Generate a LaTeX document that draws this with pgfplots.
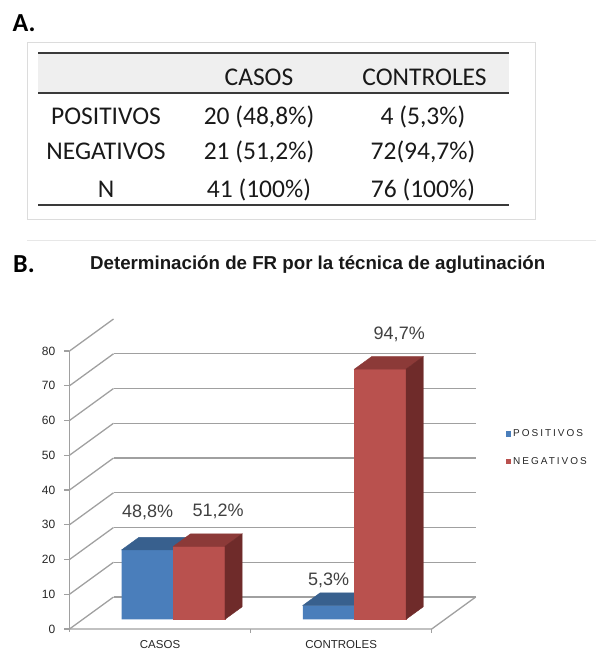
\documentclass[border=0pt]{standalone}
\usepackage{pgfplots}
\pgfplotsset{compat=1.18}
\usepackage{fontspec}
\setmainfont{Liberation Sans}
\newfontfamily\calibri{Carlito}
\definecolor{blueF}{HTML}{4A7EBB}
\definecolor{blueT}{HTML}{38608E}
\definecolor{blueS}{HTML}{2E5280}
\definecolor{redF}{HTML}{B9514E}
\definecolor{redT}{HTML}{8C3A38}
\definecolor{redS}{HTML}{6F2B2A}
\definecolor{gridc}{HTML}{A0A0A0}
\definecolor{labc}{HTML}{404040}
\definecolor{rulec}{HTML}{3A3A3A}
\definecolor{hdr}{HTML}{EFEFEF}
\definecolor{frame}{HTML}{DCDCDC}
\pgfdeclareplotmark{empty}{}
\begin{document}
\begin{tikzpicture}[x=1pt,y=1pt]
\useasboundingbox (0pt,0pt) rectangle (596pt,-654pt);
% ---------- Panel A: table ----------
\node[anchor=base west, inner sep=0pt, font=\calibri\bfseries\fontsize{26}{28}\selectfont] at (12.5,-31.7) {A.};
\draw[frame, line width=0.8pt] (27.3,-42.7) rectangle (535,-219);
\fill[hdr] (38.3,-53.3) rectangle (509.3,-93.3);
\draw[rulec, line width=1.8pt] (38.3,-53.3) -- (509.3,-53.3);
\draw[rulec, line width=2.2pt] (38.3,-93.3) -- (509.3,-93.3);
\draw[rulec, line width=2.2pt] (38.3,-205) -- (509.3,-205);
\begin{scope}[every node/.style={anchor=base, inner sep=0pt, text=black!90, font=\calibri\fontsize{25.5}{28}\selectfont}]
\node at (259,-85.3) {CASOS};
\node at (424.5,-85.3) {CONTROLES};
\node at (106,-124) {POSITIVOS};
\node at (259,-124) {20 (48,8\%)};
\node at (423,-124) {4 (5,3\%)};
\node at (106,-159.7) {NEGATIVOS};
\node at (259,-159.7) {21 (51,2\%)};
\node at (423,-159.7) {72(94,7\%)};
\node at (106,-197.3) {N};
\node at (259,-197.3) {41 (100\%)};
\node at (423,-197.3) {76 (100\%)};
\end{scope}
% ---------- Panel B ----------
\draw[frame!70, line width=0.8pt] (27,-240) -- (596,-240);
\node[anchor=base west, inner sep=0pt, font=\calibri\bfseries\fontsize{26}{28}\selectfont] at (13,-272.7) {B.};
\node[anchor=base west, inner sep=0pt, font=\bfseries\fontsize{18.7}{21}\selectfont, text=black!90] at (90,-269.3) {Determinación de FR por la técnica de aglutinación};
\begin{axis}[
  at={(82.8pt,-619.3pt)}, anchor=south west,
  scale only axis, width=362.2pt, height=278pt,
  xmin=0, xmax=2, ymin=0, ymax=80,
  clip=false,
  axis line style={draw=none},
  tick style={draw=none},
  major tick length=0pt,
  xtick={0.5,1.5}, xticklabels={CASOS,CONTROLES},
  ytick={0,10,20,30,40,50,60,70,80},
  /pgf/number format/assume math mode=true,
  xticklabel style={anchor=center, xshift=-13.3pt, yshift=-25.7pt, font=\fontsize{11.5}{13}\selectfont, text=black!85},
  yticklabel style={anchor=east, xshift=-24pt, yshift=-9.7pt, font=\fontsize{12}{13}\selectfont, text=black!85},
  legend style={at={(axis description cs:1.167,0.69)}, anchor=north west, draw=none, fill=none, inner sep=0pt, row sep=15pt,
    font={\fontsize{10}{12}\selectfont\addfontfeatures{LetterSpace=20}}, text=black!85},
  legend cell align=left,
]
% side wall diagonals
\pgfplotsinvokeforeach{0,10,20,30,40,50,60,70,80}{
  \draw[gridc, line width=1.3pt] ([shift={(-13.3pt,-9.7pt)}]axis cs:0,#1) -- ([shift={(30.7pt,22.3pt)}]axis cs:0,#1);
  \draw[gridc, line width=1.3pt] ([shift={(-13.3pt,-9.7pt)}]axis cs:0,#1) -- ++(-5pt,0pt);
}
% back wall lines
\pgfplotsinvokeforeach{0,10,20,30,40,50,60,70}{
  \draw[gridc, line width=1.3pt] ([shift={(30.7pt,22.3pt)}]axis cs:0,#1) -- ([shift={(30.7pt,22.3pt)}]axis cs:2,#1);
}
% floor and front axis
\draw[gridc, line width=1.3pt] ([shift={(-13.3pt,-9.7pt)}]axis cs:0,80) -- ([shift={(-13.3pt,-12.7pt)}]axis cs:0,0);
\draw[gridc, line width=1.3pt] ([shift={(-13.3pt,-9.7pt)}]axis cs:0,0) -- ([shift={(-13.3pt,-9.7pt)}]axis cs:2,0) -- ([shift={(30.7pt,22.3pt)}]axis cs:2,0);
\pgfplotsinvokeforeach{1,2}{
  \draw[gridc, line width=1.3pt] ([shift={(-13.3pt,-9.7pt)}]axis cs:#1,0) -- ++(0pt,-4pt);
}
% POSITIVOS
\addplot[ybar, bar width=51.6pt, bar shift=-25.8pt, fill=blueF, draw=none,
  nodes near coords, point meta=explicit symbolic,
  visualization depends on={rawy \as \hb},
  every node near coord/.append style={anchor=center, xshift=-25.8pt, yshift={22.5pt+0.75pt*\hb}, font=\fontsize{18}{20}\selectfont, text=labc},
  legend image code/.code={\fill[blueF] (0pt,-2.75pt) rectangle (5.5pt,2.75pt);}]
  coordinates {(0.5,20) [48,8\%] (1.5,4) [5,3\%]};
\addlegendentry{POSITIVOS}
\addplot[forget plot, only marks, scatter, mark=empty,
  scatter/@pre marker code/.code={
    \fill[blueT] (-51.6pt,0pt) -- (-34.4pt,12.5pt) -- (17.2pt,12.5pt) -- (0pt,0pt) -- cycle;
  },
  scatter/@post marker code/.code={}]
  coordinates {(0.5,20) (1.5,4)};
% NEGATIVOS
\addplot[ybar, bar width=51.6pt, bar shift=25.8pt, fill=redF, draw=none,
  nodes near coords, point meta=explicit symbolic,
  every node near coord/.append style={anchor=center, xshift=44.8pt, yshift=34.5pt, font=\fontsize{18}{20}\selectfont, text=labc},
  legend image code/.code={\fill[redF] (0pt,-2.75pt) rectangle (5.5pt,2.75pt);}]
  coordinates {(0.5,21) [51,2\%] (1.5,72) [94,7\%]};
\addlegendentry{NEGATIVOS}
\addplot[forget plot, only marks, scatter, mark=empty,
  visualization depends on={rawy \as \hval},
  scatter/@pre marker code/.code={
    \fill[redF] (0pt,0pt) rectangle (51.6pt,-\hval*3.475pt);
    \fill[redT] (0pt,0pt) -- (17.2pt,12.5pt) -- (68.8pt,12.5pt) -- (51.6pt,0pt) -- cycle;
    \fill[redS] (51.6pt,0pt) -- (68.8pt,12.5pt) -- ++(0pt,-\hval*3.475pt) -- ++(-17.2pt,-12.5pt) -- cycle;
  },
  scatter/@post marker code/.code={}]
  coordinates {(0.5,21) (1.5,72)};
\end{axis}
\end{tikzpicture}
\end{document}
